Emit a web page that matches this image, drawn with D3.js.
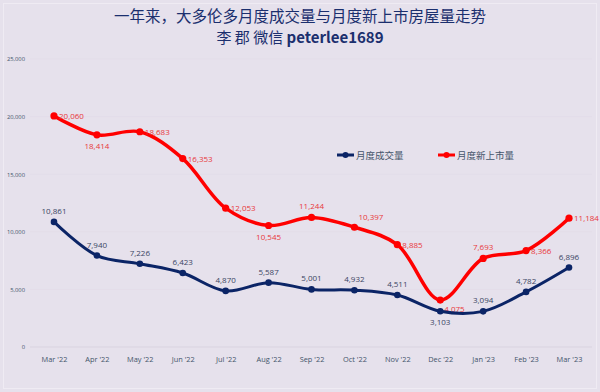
<!DOCTYPE html>
<html>
<head>
<meta charset="utf-8">
<script src="https://cdn.jsdelivr.net/npm/d3@7"></script>
<style>
    body { margin: 0; background: #e6e1ec; }
    svg { display: block; }
</style>
</head>
<body>
<script>
// months on the x axis
const months = ["Mar '22", "Apr '22", "May '22", "Jun '22", "Jul '22", "Aug '22",
                "Sep '22", "Oct '22", "Nov '22", "Dec '22", "Jan '23", "Feb '23", "Mar '23"];

// monthly sales (blue) and new listings (red)
const sales = [10861, 7940, 7226, 6423, 4870, 5587, 5001, 4932, 4511, 3103, 3094, 4782, 6896];
const listings = [20060, 18414, 18683, 16353, 12053, 10545, 11244, 10397, 8885, 4075, 7693, 8366, 11184];

const yTicks = [0, 5000, 10000, 15000, 20000, 25000];
const seriesNames = ["月度成交量", "月度新上市量"];

// label placement for each point: r = right, b = below, t = above
const salesPos = ["t", "t", "t", "t", "t", "t", "t", "t", "t", "b", "t", "t", "t"];
const listingsPos = ["r", "b", "r", "r", "r", "b", "t", "tr", "r", "br", "t", "r", "r"];

const W = 600, H = 392;
const blue = "#0b2466", red = "#ff0000";

const svg = d3.select("body").append("svg")
              .attr("width", W)
              .attr("height", H);

// background and faint frame
svg.append("rect")
   .attr("width", W).attr("height", H)
   .attr("fill", "#e6e1ec");
svg.append("rect")
   .attr("x", 3.5).attr("y", 3.5)
   .attr("width", W - 7).attr("height", H - 7)
   .attr("fill", "none")
   .attr("stroke", "#efebf3")
   .attr("stroke-width", 1);

// scales
const x = d3.scalePoint()
            .domain(months)
            .range([54, 569]);

const y = d3.scaleLinear()
            .domain([0, 25000])
            .range([347, 59]);

// title
svg.append("text")
   .attr("x", W / 2).attr("y", 22)
   .attr("text-anchor", "middle")
   .style("font-family", "'Noto Sans CJK SC'")
   .style("font-size", "15.5px")
   .attr("fill", "#1b2f6e")
   .text("一年来，大多伦多月度成交量与月度新上市房屋量走势");

let sub = svg.append("text")
   .attr("x", W / 2).attr("y", 43)
   .attr("text-anchor", "middle")
   .style("font-family", "'Noto Sans CJK SC'")
   .style("font-size", "15px")
   .attr("fill", "#1b2f6e");
sub.append("tspan").text("李 郡 微信 ");
sub.append("tspan").style("font-weight", "bold").text("peterlee1689");

// gridlines
svg.append("g")
   .selectAll("line")
   .data(yTicks)
   .enter().append("line")
   .attr("x1", 30).attr("x2", 592)
   .attr("y1", d => y(d)).attr("y2", d => y(d))
   .attr("stroke", d => d === 0 ? "#d9d3e0" : "#e3dde9")
   .attr("stroke-width", 1);

// y axis
const yAxis = svg.append("g")
                 .attr("transform", "translate(28,0)")
                 .call(d3.axisLeft(y).tickValues(yTicks).tickSize(0).tickFormat(d3.format(",")));
yAxis.select(".domain").remove();
yAxis.selectAll("text")
     .attr("fill", "#44546a")
     .style("font-family", "'Open Sans'")
     .style("font-size", "5.8px");

// x axis
const xAxis = svg.append("g")
                 .attr("transform", "translate(0,352)")
                 .call(d3.axisBottom(x).tickSize(0));
xAxis.select(".domain").remove();
xAxis.selectAll("text")
     .attr("fill", "#44546a")
     .attr("dy", "0.9em")
     .style("font-family", "'Open Sans'")
     .style("font-size", "7.4px");

const line = d3.line()
               .x((d, i) => x(months[i]))
               .y(d => y(d))
               .curve(d3.curveCatmullRom.alpha(0.5));

function drawSeries(values, color, width, r, pos, labelColor) {
    svg.append("path")
       .datum(values)
       .attr("d", line)
       .attr("fill", "none")
       .attr("stroke", color)
       .attr("stroke-width", width)
       .attr("stroke-linejoin", "round");

    svg.append("g")
       .selectAll("circle")
       .data(values)
       .enter().append("circle")
       .attr("cx", (d, i) => x(months[i]))
       .attr("cy", d => y(d))
       .attr("r", r)
       .attr("fill", color);

    svg.append("g")
       .selectAll("text")
       .data(values)
       .enter().append("text")
       .attr("x", (d, i) => {
            let p = pos[i];
            if (p === "r") return x(months[i]) + 5;
            if (p === "tr" || p === "br") return x(months[i]) + 4;
            return x(months[i]);
       })
       .attr("y", (d, i) => {
            let p = pos[i];
            if (p === "t") return y(d) - 8;
            if (p === "tr") return y(d) - 7;
            if (p === "b") return y(d) + 14;
            if (p === "br") return y(d) + 12;
            return y(d) + 3;
       })
       .attr("text-anchor", (d, i) => pos[i] === "t" || pos[i] === "b" ? "middle" : "start")
       .attr("fill", labelColor)
       .style("font-family", "'Open Sans'")
       .style("font-size", "8px")
       .text(d => d3.format(",")(d));
}

drawSeries(listings, red, 3.5, 3.6, listingsPos, "#e8383b");
drawSeries(sales, blue, 3, 3.3, salesPos, "#3a4563");

// legend
const legend = svg.selectAll(".legend")
                  .data([blue, red])
                  .enter().append("g")
                  .attr("class", "legend")
                  .attr("transform", (d, i) => "translate(" + (337 + i * 101) + ",155)");

legend.append("line")
      .attr("x1", 0).attr("x2", 17)
      .attr("stroke", d => d)
      .attr("stroke-width", 3);

legend.append("circle")
      .attr("cx", 8.5).attr("r", 3)
      .attr("fill", d => d);

legend.append("text")
      .attr("x", 19).attr("y", 3.5)
      .attr("fill", "#44546a")
      .style("font-family", "'Noto Sans CJK SC'")
      .style("font-size", "9.5px")
      .text((d, i) => seriesNames[i]);
</script>
</body>
</html>
